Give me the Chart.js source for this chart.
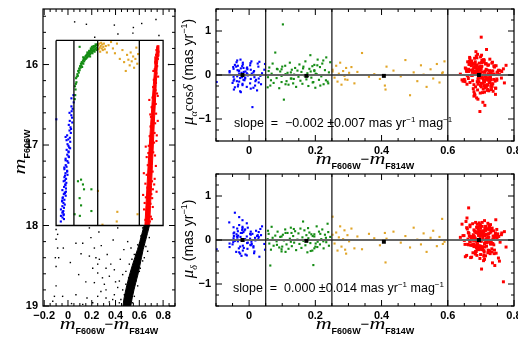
<!DOCTYPE html>
<html>
<head>
<meta charset="utf-8">
<script src="https://cdn.jsdelivr.net/npm/chart.js@4.4.0/dist/chart.umd.min.js"></script>
<style>
  body { margin: 0; background: #fff; }
  #wrap { position: relative; width: 518px; height: 338px; overflow: hidden; }
  canvas { position: absolute; }
</style>
</head>
<body>
<div id="wrap">
  <canvas id="cmd" width="200" height="338" style="left:0px;top:0px"></canvas>
  <canvas id="pmRa" width="340" height="180" style="left:178px;top:0px"></canvas>
  <canvas id="pmDec" width="340" height="174" style="left:178px;top:164px"></canvas>
</div>
<script>
// tick labels
const cmdColorTicks = [-0.2, 0, 0.2, 0.4, 0.6, 0.8];
const cmdMagTicks = [16, 17, 18, 19];
const pmColorTicks = [0, 0.2, 0.4, 0.6, 0.8];
const pmTicks = [-1, 0, 1];

// selection box and colour cuts
const boxColor = [-0.1, 0.8];
const boxMag = [15.7, 18.0];
const colorCuts = [0.05, 0.25, 0.6];

// blue HB stars
const blueMag = [16.38,16.42,16.47,16.52,16.55,16.60,16.63,16.66,16.70,16.72,16.75,16.78,16.82,16.85,16.88,16.91,16.93,16.96,16.99,17.01,
  17.04,17.06,17.09,17.12,17.14,17.17,17.20,17.22,17.25,17.27,17.30,17.32,17.35,17.37,17.40,17.42,17.45,17.47,17.49,17.52,
  17.54,17.56,17.59,17.61,17.63,17.66,17.68,17.70,17.72,17.74,17.76,17.78,17.80,17.82,17.84,17.86,17.88,17.90,17.92,17.95,
  16.68,16.80,16.94,17.08,17.19,17.33,17.44,17.58,17.69,17.83,17.03,17.28,17.50,17.65,17.87,16.58,16.90,17.15,17.38,17.60];
const blueColor = [0.046,0.029,0.048,0.029,0.039,0.013,0.028,0.034,0.015,0.036,0.007,0.021,0.013,0.024,-0.007,0.016,0.003,0.019,-0.004,0.004,
  0.018,-0.011,0.005,-0.006,0.005,-0.020,-0.005,0.003,-0.019,-0.012,-0.030,-0.007,-0.021,-0.004,-0.030,-0.016,-0.036,-0.014,-0.023,-0.033,
  -0.017,-0.047,-0.027,-0.035,-0.019,-0.045,-0.030,-0.050,-0.038,-0.027,-0.047,-0.034,-0.059,-0.039,-0.047,-0.036,-0.059,-0.046,-0.034,-0.060,
  -0.098,0.026,-0.012,0.005,-0.020,-0.007,-0.026,-0.017,-0.048,-0.043,0.010,-0.031,-0.021,-0.043,-0.037,0.031,-0.020,0.008,-0.025,-0.025];
const bluePmRa = [0.12,-0.08,0.25,-0.17,0.04,-0.29,0.19,-0.02,0.09,-0.21,0.31,-0.11,0.06,-0.35,0.15,-0.05,0.22,-0.14,0.01,0.27,
  -0.24,0.08,-0.09,0.17,-0.31,0.03,0.13,-0.19,0.28,-0.06,0.10,-0.27,0.20,-0.01,-0.15,0.07,0.33,-0.12,0.05,-0.22,
  0.16,-0.04,-0.37,0.11,0.24,-0.10,0.02,-0.18,0.29,-0.07,0.14,-0.26,0.06,0.19,-0.13,-0.03,0.09,-0.33,0.21,0.00,
  -0.16,0.26,-0.08,0.12,-0.20,0.04,0.35,-0.11,0.18,-0.28,-0.73,0.08,-0.05,0.23,-0.14,0.30,-0.23,0.03,-0.39,0.15];
const bluePmDec = [-0.09,0.18,-0.22,0.07,0.31,-0.14,0.02,0.25,-0.30,0.11,-0.04,0.21,-0.17,0.09,0.38,-0.26,0.14,-0.01,0.28,-0.11,
  0.05,-0.33,0.19,-0.07,0.12,0.45,-0.20,0.03,-0.13,0.24,-0.28,0.08,0.16,-0.06,0.34,-0.18,0.01,0.22,-0.36,0.10,
  -0.02,0.29,-0.15,0.06,-0.24,0.17,0.52,-0.10,0.13,-0.31,0.04,0.20,-0.08,-0.27,0.15,0.26,-0.16,0.09,-0.03,0.40,
  -0.21,0.11,0.02,-0.12,0.30,-0.35,0.07,0.18,-0.05,0.62,0.14,-0.19,0.23,-0.02,0.08,-0.38,0.27,-0.09,0.16,0.00];

// green HB stars
const greenColor = [0.084,0.110,0.126,0.135,0.197,0.098,0.110,0.197,0.056,0.100,
  0.057,0.061,0.064,0.059,0.066,0.071,0.068,0.074,0.079,0.083,0.086,0.091,0.094,0.098,0.102,0.105,0.109,0.113,0.116,0.119,
  0.123,0.126,0.129,0.133,0.136,0.139,0.142,0.146,0.149,0.152,0.155,0.158,0.161,0.164,0.167,0.170,0.173,0.176,0.179,0.182,
  0.185,0.188,0.191,0.194,0.197,0.200,0.204,0.207,0.211,0.214,0.218,0.221,0.225,0.229,0.233,0.237,0.241,0.245,0.128,0.098,
  0.192,0.206,0.178,0.224,0.215,0.186,0.232,0.163,0.201,0.239];
const greenMag = [17.45,17.43,17.49,17.55,17.55,17.66,17.75,17.82,17.86,17.88,
  16.43,16.38,16.31,16.27,16.24,16.22,16.17,16.15,16.12,16.14,16.08,16.10,16.05,16.07,16.02,16.04,15.99,16.01,15.97,16.03,
  15.98,15.95,15.99,15.93,15.96,15.92,15.94,15.90,15.93,15.89,15.92,15.88,15.91,15.87,15.90,15.86,15.89,15.85,15.88,15.84,
  15.87,15.83,15.86,15.82,15.85,15.81,15.84,15.80,15.83,15.79,15.82,15.78,15.81,15.77,15.80,15.76,15.79,15.75,15.91,15.78,
  15.80,15.86,15.83,15.84,15.77,15.90,15.75,15.85,15.78,15.82];
const greenPmRa = [0.14,-0.21,0.06,-0.09,0.23,-0.16,0.02,0.11,-0.28,0.19,
  -0.05,0.17,-0.24,0.09,-0.12,0.26,0.03,-0.18,0.51,-0.07,0.13,-0.30,0.08,-0.02,1.15,-0.56,0.21,-0.14,0.05,-0.22,
  0.28,-0.08,0.12,-0.19,0.01,0.16,-0.27,0.10,-0.04,0.24,-0.13,0.07,-0.20,0.19,-0.01,0.31,-0.10,0.04,-0.25,0.14,
  0.45,-0.06,0.20,-0.16,0.09,-0.29,0.02,0.35,-0.11,0.18,-0.03,0.26,-0.21,0.11,0.40,-0.15,0.06,0.29,-0.08,0.13,
  -0.17,0.22,-0.02,0.33,-0.24,0.08,-0.12,0.15,0.03,-0.19];
const greenPmDec = [-0.11,0.16,-0.04,0.25,-0.19,0.08,-0.27,0.13,0.02,-0.15,
  0.21,-0.08,-0.58,0.14,-0.22,0.05,0.30,-0.13,0.10,-0.03,0.19,-0.17,0.07,-0.26,0.12,-0.01,0.24,-0.10,0.16,-0.20,
  0.03,0.28,-0.14,0.09,-0.06,0.20,-0.23,0.01,0.15,-0.09,0.26,-0.18,0.06,-0.02,0.22,-0.12,0.11,-0.28,0.04,0.17,
  -0.07,0.13,-0.24,-0.57,0.08,-0.15,0.31,-0.04,0.19,-0.10,0.02,0.24,-0.19,0.12,-0.05,0.37,-0.13,0.07,0.16,-0.21,
  0.09,-0.16,0.27,-0.03,0.14,-0.25,0.05,0.42,-0.08,0.18];

// orange (RR Lyrae gap) stars
const orangeColor = [0.252,0.258,0.263,0.267,0.271,0.275,0.279,0.284,0.288,0.293,0.297,0.302,0.309,0.318,0.327,0.341,0.362,0.378,0.395,0.412,
  0.436,0.458,0.472,0.486,0.497,0.508,0.519,0.527,0.536,0.548,0.556,0.567,0.575,0.583,0.590,0.252,0.290,0.415,0.410,0.585];
const orangeMag = [15.76,15.81,15.74,15.79,15.84,15.77,15.73,15.80,15.75,15.82,15.78,15.74,15.81,15.77,15.85,15.76,15.72,15.80,15.86,15.74,
  15.93,15.82,15.97,16.08,15.88,15.94,16.01,15.85,15.96,15.90,16.04,15.93,15.79,15.99,15.87,17.57,17.99,17.83,17.95,17.86];
const orangePmRa = [0.12,-0.06,0.21,-0.15,0.03,0.28,-0.22,0.09,-0.02,0.16,-0.11,0.05,0.18,-0.19,0.07,0.50,-0.04,0.02,-0.09,-0.33,
  0.10,-0.03,0.34,-0.46,0.06,-0.14,0.22,0.01,-0.27,0.13,-0.08,0.25,-0.17,0.04,0.31,0.08,-0.10,0.19,-0.24,0.06];
const orangePmDec = [0.53,-0.08,0.17,-0.24,0.06,0.31,-0.15,0.02,0.22,-0.31,0.11,-0.03,0.26,-0.19,0.08,-0.21,0.14,0.04,-0.12,-0.51,
  0.19,-0.06,0.09,-0.17,0.28,0.01,-0.10,0.15,-0.27,0.05,0.21,-0.14,0.07,0.48,-0.04,0.12,-0.22,0.03,0.16,-0.09];

// red giant branch stars (proper motion panels)
const redColor = [0.692,0.713,0.671,0.728,0.703,0.684,0.719,0.662,0.741,0.698,0.687,0.652,0.709,0.751,0.679,0.701,0.724,0.668,0.694,0.733,
  0.706,0.681,0.659,0.697,0.744,0.689,0.716,0.643,0.702,0.762,0.676,0.699,0.731,0.665,0.711,0.686,0.748,0.657,0.722,0.695,
  0.704,0.673,0.691,0.726,0.682,0.738,0.708,0.649,0.697,0.734,0.688,0.715,0.663,0.679,0.729,0.701,0.771,0.669,0.718,0.693,
  0.712,0.678,0.743,0.699,0.661,0.721,0.687,0.754,0.683,0.707,0.696,0.732,0.674,0.690,0.714,0.638,0.723,0.702,0.681,0.758,
  0.693,0.709,0.667,0.736,0.685,0.717,0.655,0.700,0.746,0.677,0.705,0.689,0.727,0.672,0.711,0.696,0.739,0.664,0.720,0.684,
  0.698,0.716,0.680,0.733,0.691,0.706,0.653,0.725,0.688,0.749,0.675,0.703,0.719,0.686,0.740,0.694,0.668,0.712,0.699,0.731,
  0.682,0.709,0.763,0.690,0.658,0.722,0.697,0.678,0.715,0.735,0.701,0.670,0.726,0.687,0.744,0.695,0.710,0.646,0.718,0.683,
  0.707,0.692,0.729,0.676,0.753,0.700,0.666,0.714,0.689,0.737,0.684,0.721,0.697,0.660,0.708,0.742,0.679,0.713,0.693,0.768,
  0.702,0.674,0.730,0.688,0.717,0.650,0.699,0.745,0.681,0.723,0.694,0.711,0.667,0.736,0.690,0.705,0.756,0.677,0.719,0.698,
  0.686,0.727,0.663,0.704,0.739,0.691,0.716,0.672,0.748,0.700,0.709,0.683,0.724,0.695,0.657,0.732,0.689,0.712,0.776,0.680];
const redPmRa = [0.05,-0.12,0.21,-0.03,0.33,-0.27,0.11,-0.08,0.18,-0.41,0.02,-0.15,0.29,0.07,-0.22,0.14,-0.36,0.24,-0.05,0.09,
  -0.19,0.38,-0.01,0.16,-0.30,0.06,0.26,-0.11,0.45,-0.07,0.12,-0.24,0.03,0.31,-0.16,0.20,-0.09,0.08,-0.33,0.15,
  -0.04,0.27,-0.21,0.10,-0.46,0.01,0.35,-0.13,0.19,-0.26,0.23,-0.06,0.13,-0.38,0.04,0.86,-0.18,0.28,-0.10,0.17,
  -0.29,0.08,-0.14,0.41,-0.02,0.22,-0.52,0.11,0.30,-0.08,0.15,-0.20,0.06,-0.34,0.25,0.02,-0.12,0.19,-0.43,0.10,
  -0.03,0.32,-0.17,0.09,0.53,-0.25,0.14,-0.07,0.21,-0.31,0.07,-0.15,0.36,-0.01,-0.39,0.18,-0.10,0.24,-0.22,0.04,
  0.12,-0.28,0.01,0.27,-0.09,-0.62,0.16,-0.18,0.39,0.06,-0.13,0.20,-0.35,0.09,0.02,-0.05,0.31,-0.24,0.14,-0.11,
  0.25,-0.16,0.08,0.47,-0.21,0.03,-0.83,0.17,-0.04,0.29,-0.27,0.11,-0.09,0.22,-0.44,0.05,0.34,-0.14,0.00,0.19,
  -0.32,0.13,-0.06,0.26,0.10,-0.19,0.40,-0.02,0.07,-0.37,0.16,-0.23,0.04,0.30,-0.12,0.21,-0.48,0.09,-0.07,0.14,
  0.28,-0.01,-0.26,0.12,0.58,-0.10,0.18,-0.30,0.03,0.23,-0.15,0.06,0.37,-0.20,0.11,-0.40,0.01,0.24,-0.08,0.15,
  0.43,-0.17,0.08,-0.03,0.20,-0.55,0.13,0.32,-0.12,0.05,-0.25,0.17,-0.06,0.27,0.10,-0.33,0.02,-0.69,0.22,0.07];
const redPmDec = [-0.14,0.22,0.03,-0.31,0.11,0.40,-0.06,0.17,-0.23,0.08,0.29,-0.10,-0.37,0.14,0.01,-0.19,0.33,-0.04,0.20,-0.27,
  0.06,-0.13,0.25,-0.42,0.16,-0.08,0.02,0.36,-0.21,0.12,-0.29,0.18,-0.05,0.09,0.44,-0.16,0.24,-0.35,0.07,-0.02,
  0.31,-0.11,0.15,-0.25,0.04,0.21,-0.47,0.10,-0.18,0.27,-0.07,0.13,0.73,-0.15,0.35,-0.03,0.19,-0.40,0.05,-0.22,
  0.26,-0.09,0.11,-0.33,0.02,0.38,-0.17,0.08,-0.28,0.16,-0.01,0.23,-0.12,0.30,-0.36,0.06,0.14,-0.66,0.20,-0.05,
  0.10,-0.24,0.34,-0.08,0.17,-0.14,0.42,0.00,-0.30,0.12,-0.19,0.28,-0.04,0.07,-0.44,0.21,-0.11,0.15,0.03,-0.26,
  0.32,-0.06,0.09,-0.20,0.18,0.01,-0.38,0.24,-0.13,0.05,0.37,-0.22,0.13,-0.02,-0.31,0.19,0.08,-0.16,0.27,-0.09,
  0.04,-0.34,0.16,-0.07,0.50,-0.23,0.11,-0.01,0.22,-0.52,0.14,-0.12,0.29,-0.18,0.06,0.39,-0.27,0.10,-0.05,0.20,
  -0.15,0.25,-0.09,0.03,-0.41,0.17,-0.03,0.31,-0.21,0.09,0.01,-0.29,0.35,-0.10,0.12,-0.58,0.23,-0.06,0.15,-0.95,
  -0.20,0.07,0.18,-0.35,0.26,-0.01,-0.14,0.46,0.05,-0.24,0.13,-0.08,0.30,0.02,-0.17,0.21,-0.48,0.09,-0.03,0.33,
  -0.26,0.16,-0.11,0.40,0.04,-0.19,0.24,-0.39,0.11,-0.02,0.19,-0.32,0.06,-0.13,0.28,-0.07,0.36,0.10,-0.16,0.01];

// red giant branch in the CMD: dense band edges and scattered stars
const rgbMag = [15.76, 15.9, 16.0, 16.25, 16.5, 16.75, 17.0, 17.25, 17.5, 17.75, 18.0];
const rgbLeft = [0.749, 0.738, 0.732, 0.718, 0.706, 0.695, 0.684, 0.674, 0.665, 0.656, 0.647];
const rgbRight = [0.765, 0.758, 0.752, 0.742, 0.734, 0.725, 0.718, 0.710, 0.703, 0.694, 0.687];
const rgbStarMag = [15.79,15.84,15.88,15.93,15.97,16.02,16.06,16.11,16.15,16.19,16.23,16.28,16.32,16.36,16.41,16.45,16.49,16.53,16.57,16.61,
  16.65,16.69,16.73,16.77,16.81,16.85,16.89,16.93,16.97,17.01,17.05,17.09,17.13,17.17,17.21,17.25,17.29,17.33,17.37,17.41,
  17.45,17.49,17.53,17.57,17.61,17.65,17.69,17.73,17.77,17.81,17.85,17.89,17.93,17.97,16.44,16.95,17.35,17.58,17.80,16.70,
  17.15,17.62,17.92,16.08,17.42,17.02,16.88,17.72,17.26,17.48,15.82,16.62,17.10,17.55,17.95,16.39,17.40,17.84,16.98,17.66];
const rgbStarColor = [0.752,0.761,0.741,0.756,0.735,0.750,0.729,0.744,0.758,0.722,0.740,0.716,0.737,0.749,0.711,0.729,0.738,0.703,0.722,0.741,
  0.698,0.718,0.733,0.694,0.712,0.728,0.687,0.705,0.724,0.679,0.699,0.717,0.732,0.684,0.703,0.671,0.694,0.712,0.662,0.688,
  0.707,0.725,0.668,0.683,0.701,0.655,0.677,0.694,0.713,0.662,0.681,0.697,0.651,0.672,0.684,0.744,0.638,0.745,0.640,0.755,
  0.662,0.632,0.705,0.718,0.729,0.654,0.747,0.645,0.739,0.651,0.744,0.692,0.676,0.714,0.688,0.755,0.676,0.669,0.693,0.708];

// main sequence band edges below the box
const msMag = [18.0, 18.1, 18.2, 18.3, 18.4, 18.5, 18.6, 18.7, 18.8, 18.9, 19.0];
const msLeft = [0.640, 0.622, 0.604, 0.584, 0.562, 0.540, 0.520, 0.502, 0.486, 0.472, 0.462];
const msRight = [0.685, 0.668, 0.650, 0.632, 0.618, 0.604, 0.590, 0.572, 0.555, 0.540, 0.528];

// other (black) stars in the CMD
const fieldColor = [0.056,0.155,0.39,0.55,0.62,0.74,0.765,0.225,0.42,0.546,0.846,
  -0.10,-0.087,-0.10,-0.087,-0.106,-0.078,-0.10,-0.10,-0.114,-0.039,0.124,0.193,0.222,0.235,0.208,0.25,0.222,0.306,0.277,0.32,
  0.348,0.39,0.418,0.432,0.46,0.487,0.516,0.558,0.586,0.613,0.684,0.67,0.628,0.60,0.571,0.544,0.53,0.474,0.445,0.376,
  0.32,0.25,0.264,0.32,0.348,0.39,0.067,0.18,0.418,0.502,0.53,-0.128,0.124,0.208,0.067,-0.045,0.18,0.25,
  0.628,0.571,0.642,0.487,0.586,0.46,0.558,0.432,0.544,0.51,0.608,0.655,0.538,0.493,
  0.02,0.09,0.15,0.11,0.28,0.33,0.36,0.03,0.16,0.29,0.40,0.44,0.47,0.38,0.26];
const fieldMag = [15.47,15.50,15.51,15.54,15.49,15.44,15.64,15.66,15.62,15.61,16.0,
  18.05,18.11,18.17,18.28,18.40,18.40,18.51,18.75,18.88,18.28,18.22,18.15,18.28,18.40,18.53,18.59,18.71,18.73,18.82,18.90,
  18.95,18.86,18.77,18.69,18.61,18.57,18.48,18.36,18.24,18.13,18.15,18.32,18.44,18.57,18.69,18.82,18.92,18.86,18.92,18.92,
  18.80,18.88,18.42,18.53,18.63,18.55,18.22,18.03,18.03,18.20,18.28,18.94,18.98,18.96,18.86,18.88,18.38,18.48,
  18.03,18.36,18.40,18.73,18.75,18.80,18.88,18.96,18.96,18.65,18.53,18.26,18.42,18.82,
  18.46,18.61,18.70,18.35,18.25,18.36,18.48,18.97,18.90,18.65,18.70,18.42,18.30,18.18,18.08];

// mean proper motion of each group
const meanColor = [-0.02, 0.173, 0.407, 0.694];
const meanPmRa = [0.0, -0.02, -0.02, 0.0];
const meanPmDec = [0.0, -0.02, -0.04, 0.0];

const BLUE = 'rgb(0,0,255)';
const GREEN = 'rgb(20,140,20)';
const ORANGE = 'rgb(225,165,40)';
const RED = 'rgb(255,0,0)';

Chart.defaults.font.family = 'Liberation Sans';
Chart.defaults.font.size = 11;
Chart.defaults.font.weight = 'bold';
Chart.defaults.color = '#000';

function pts(xs, ys) {
    return xs.map((x, i) => ({ x: x, y: ys[i] }));
}

function fmt(v) {
    return (v < 0 ? '\u2212' : '') + Math.abs(Math.round(v * 100) / 100).toString();
}

function stars(xs, ys, color, r, order) {
    return {
        data: pts(xs, ys),
        pointStyle: 'rect',
        pointRadius: r,
        pointBackgroundColor: color,
        pointBorderWidth: 0,
        showLine: false,
        order: order
    };
}

function line(points, color, width, order) {
    return {
        data: points,
        showLine: true,
        borderColor: color,
        borderWidth: width,
        pointRadius: 0,
        fill: false,
        tension: 0,
        order: order
    };
}

function band(mags, left, right, color, order) {
    const edge = pts(left, mags).concat(pts(right, mags).reverse());
    return {
        data: edge,
        showLine: true,
        borderColor: color,
        borderWidth: 1,
        backgroundColor: color,
        pointRadius: 0,
        fill: 'shape',
        tension: 0,
        order: order
    };
}

// draws text made of pieces (sub/superscripts), optionally centred on x
function runs(ctx, parts, x, y, center) {
    let w = 0;
    parts.forEach(p => {
        ctx.font = p.f;
        p.w = ctx.measureText(p.t).width * (p.sx || 1);
        w += p.w;
    });
    let cx = center ? x - w / 2 : x;
    parts.forEach(p => {
        ctx.save();
        ctx.font = p.f;
        ctx.translate(cx, y + (p.dy || 0));
        ctx.scale(p.sx || 1, 1);
        ctx.fillText(p.t, 0, 0);
        ctx.restore();
        cx += p.w;
    });
}

const M_FONT = 'italic 17px "Liberation Serif"';
const SUB_FONT = 'bold 9px "Liberation Sans"';
const colorTitle = [
    { t: 'm', f: M_FONT, sx: 1.3 },
    { t: 'F606W', f: SUB_FONT, dy: 5 },
    { t: '\u2212', f: '15px "Liberation Sans"' },
    { t: 'm', f: M_FONT, sx: 1.3 },
    { t: 'F814W', f: SUB_FONT, dy: 5 }
];
const magTitle = [
    { t: 'm', f: M_FONT, sx: 1.3 },
    { t: 'F606W', f: SUB_FONT, dy: 5 }
];
const raTitle = [
    { t: '\u03bc', f: 'italic 17px "Liberation Serif"' },
    { t: '\u03b1', f: 'italic 10px "Liberation Serif"', dy: 4 },
    { t: 'cos', f: '15px "Liberation Serif"' },
    { t: '\u03b4', f: 'italic 15px "Liberation Serif"' },
    { t: ' (mas yr', f: '14px "Liberation Sans"' },
    { t: '\u22121', f: '9px "Liberation Sans"', dy: -6 },
    { t: ')', f: '14px "Liberation Sans"' }
];
const decTitle = [
    { t: '\u03bc', f: 'italic 17px "Liberation Serif"' },
    { t: '\u03b4', f: 'italic 10px "Liberation Serif"', dy: 4 },
    { t: ' (mas yr', f: '14px "Liberation Sans"' },
    { t: '\u22121', f: '9px "Liberation Sans"', dy: -6 },
    { t: ')', f: '14px "Liberation Sans"' }
];
function slopeText(s) {
    return [
        { t: 'slope  =  ' + s + ' mas yr', f: '12.5px "Liberation Sans"' },
        { t: '\u22121', f: '8px "Liberation Sans"', dy: -5 },
        { t: ' mag', f: '12.5px "Liberation Sans"' },
        { t: '\u22121', f: '8px "Liberation Sans"', dy: -5 }
    ];
}

// frame with inward major and minor ticks on all four sides, plus titles
function decorPlugin(xMajor, xMinor, yMajor, yMinor, texts) {
    return {
        id: 'decor',
        afterDraw(chart) {
            const { ctx, chartArea: a, scales } = chart;
            const x = scales.x, y = scales.y;
            ctx.save();
            ctx.strokeStyle = '#000';
            ctx.lineWidth = 1.2;
            ctx.strokeRect(a.left, a.top, a.right - a.left, a.bottom - a.top);
            ctx.lineWidth = 1;
            ctx.beginPath();
            const isMajor = (v, m) => Math.abs(v / m - Math.round(v / m)) < 1e-6;
            for (let i = Math.ceil(x.min / xMinor - 1e-6); i * xMinor <= x.max + 1e-9; i++) {
                const v = i * xMinor;
                const px = x.getPixelForValue(v);
                const len = isMajor(v, xMajor) ? 6 : 3;
                ctx.moveTo(px, a.bottom); ctx.lineTo(px, a.bottom - len);
                ctx.moveTo(px, a.top); ctx.lineTo(px, a.top + len);
            }
            for (let i = Math.ceil(Math.min(y.min, y.max) / yMinor - 1e-6); i * yMinor <= Math.max(y.min, y.max) + 1e-9; i++) {
                const v = i * yMinor;
                const py = y.getPixelForValue(v);
                const len = isMajor(v, yMajor) ? 6 : 3;
                ctx.moveTo(a.left, py); ctx.lineTo(a.left + len, py);
                ctx.moveTo(a.right, py); ctx.lineTo(a.right - len, py);
            }
            ctx.stroke();
            ctx.fillStyle = '#000';
            ctx.textBaseline = 'alphabetic';
            texts.forEach(t => {
                ctx.save();
                ctx.translate(t.x, t.y);
                if (t.rot) ctx.rotate(-Math.PI / 2);
                runs(ctx, t.parts, 0, 0, t.center);
                ctx.restore();
            });
            ctx.restore();
        }
    };
}

function axis(min, max, ticks, size, horizontal, reverse) {
    return {
        type: 'linear',
        min: min,
        max: max,
        reverse: !!reverse,
        grid: { display: false, drawTicks: false },
        border: { display: false },
        ticks: {
            padding: horizontal ? 3 : 5,
            maxRotation: 0,
            minRotation: 0,
            autoSkip: false,
            callback: v => fmt(v)
        },
        afterBuildTicks: scale => { scale.ticks = ticks.map(v => ({ value: v })); },
        afterFit: scale => {
            if (horizontal) scale.height = size; else scale.width = size;
            scale.paddingLeft = 0; scale.paddingRight = 0;
            scale.paddingTop = 0; scale.paddingBottom = 0;
        }
    };
}

const baseOptions = {
    responsive: false,
    animation: false,
    events: [],
    plugins: { legend: { display: false }, tooltip: { enabled: false } }
};

// colour–magnitude diagram
const boxLine = [
    { x: boxColor[0], y: boxMag[0] }, { x: boxColor[1], y: boxMag[0] },
    { x: boxColor[1], y: boxMag[1] }, { x: boxColor[0], y: boxMag[1] },
    { x: boxColor[0], y: boxMag[0] }
];
const cmdDatasets = [line(boxLine, '#000', 1.3, 0)]
    .concat(colorCuts.map(c => line([{ x: c, y: boxMag[0] }, { x: c, y: boxMag[1] }], '#000', 1.3, 0)))
    .concat([
        stars(blueColor, blueMag, BLUE, 1.5, 2),
        stars(greenColor, greenMag, GREEN, 1.5, 2),
        stars(orangeColor, orangeMag, ORANGE, 1.5, 2),
        stars(rgbStarColor, rgbStarMag, RED, 1.5, 3),
        band(rgbMag, rgbLeft, rgbRight, RED, 4),
        stars(fieldColor, fieldMag, '#000', 1.0, 5),
        band(msMag, msLeft, msRight, '#000', 6)
    ]);

new Chart(document.getElementById('cmd'), {
    type: 'scatter',
    data: { datasets: cmdDatasets },
    options: Object.assign({}, baseOptions, {
        layout: { padding: { top: 9, right: 25, left: 0, bottom: 0 } },
        scales: {
            x: axis(-0.21, 0.9, cmdColorTicks, 32, true),
            y: axis(15.31, 19, cmdMagTicks, 43, false, true)
        }
    }),
    plugins: [decorPlugin(0.2, 0.05, 1, 0.2, [
        { x: 109, y: 329, parts: colorTitle, center: true },
        { x: 25, y: 152, parts: magTitle, center: true, rot: true }
    ])]
});

// proper motion against colour
function pmDatasets(pmBlue, pmGreen, pmOrange, pmRed, pmMean) {
    return colorCuts.map(c => line([{ x: c, y: -1.5 }, { x: c, y: 1.5 }], '#222', 1.3, 0))
        .concat([
            stars(meanColor, pmMean, '#000', 2.8, 1),
            line([{ x: -0.1, y: 0 }, { x: 0.8, y: 0 }], '#666', 2, 2),
            stars(blueColor, pmBlue, BLUE, 1.5, 3),
            stars(greenColor, pmGreen, GREEN, 1.5, 3),
            stars(orangeColor, pmOrange, ORANGE, 1.5, 3),
            stars(redColor, pmRed, RED, 2.1, 3)
        ]);
}

new Chart(document.getElementById('pmRa'), {
    type: 'scatter',
    data: { datasets: pmDatasets(bluePmRa, greenPmRa, orangePmRa, redPmRa, meanPmRa) },
    options: Object.assign({}, baseOptions, {
        layout: { padding: { top: 9, right: 4, left: 0, bottom: 0 } },
        scales: {
            x: axis(-0.1, 0.8, pmColorTicks, 39, true),
            y: axis(-1.5, 1.5, pmTicks, 38, false)
        }
    }),
    plugins: [decorPlugin(0.2, 0.05, 1, 0.25, [
        { x: 187, y: 164, parts: colorTitle, center: true },
        { x: 15, y: 72, parts: raTitle, center: true, rot: true },
        { x: 56, y: 127, parts: slopeText('\u22120.002 \u00b10.007') }
    ])]
});

new Chart(document.getElementById('pmDec'), {
    type: 'scatter',
    data: { datasets: pmDatasets(bluePmDec, greenPmDec, orangePmDec, redPmDec, meanPmDec) },
    options: Object.assign({}, baseOptions, {
        layout: { padding: { top: 10, right: 4, left: 0, bottom: 0 } },
        scales: {
            x: axis(-0.1, 0.8, pmColorTicks, 32, true),
            y: axis(-1.5, 1.5, pmTicks, 38, false)
        }
    }),
    plugins: [decorPlugin(0.2, 0.05, 1, 0.25, [
        { x: 187, y: 165, parts: colorTitle, center: true },
        { x: 15, y: 75, parts: decTitle, center: true, rot: true },
        { x: 55, y: 128, parts: slopeText('0.000 \u00b10.014') }
    ])]
});
</script>
</body>
</html>
